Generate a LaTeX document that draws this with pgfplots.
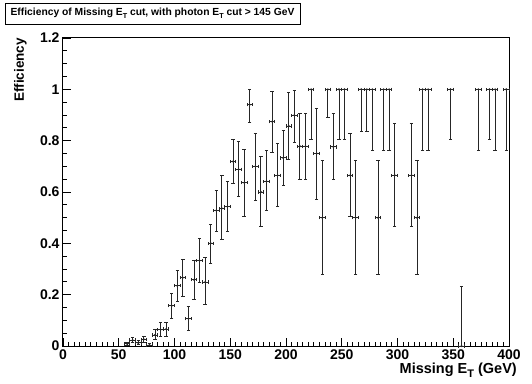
\documentclass[border=0pt]{standalone}
\usepackage{fontspec}
\setmainfont{Liberation Sans}
\usepackage{pgfplots}
\usepackage{pgfplotstable}
\pgfplotsset{compat=1.18}

% efficiency per 5 GeV bin: centre, value, half width, error up, error down
\pgfplotstableread{
x     y      ex   ep     em
57.5  0.008  2.5  0.006  0.005
62.5  0.023  2.5  0.012  0.010
67.5  0.012  2.5  0.009  0.007
72.5  0.026  2.5  0.013  0.011
77.5  0.004  2.5  0.006  0.003
82.5  0.043  2.5  0.020  0.017
87.5  0.064  2.5  0.027  0.025
92.5  0.066  2.5  0.026  0.027
97.5  0.157  2.5  0.048  0.049
102.5 0.235  2.5  0.058  0.063
107.5 0.266  2.5  0.071  0.074
112.5 0.106  2.5  0.047  0.046
117.5 0.258  2.5  0.077  0.076
122.5 0.333  2.5  0.086  0.087
127.5 0.249  2.5  0.095  0.089
132.5 0.400  2.5  0.074  0.080
137.5 0.528  2.5  0.078  0.081
142.5 0.536  2.5  0.127  0.121
147.5 0.543  2.5  0.100  0.096
152.5 0.719  2.5  0.085  0.086
157.5 0.688  2.5  0.107  0.104
162.5 0.636  2.5  0.129  0.130
167.5 0.940  2.5  0.058  0.070
172.5 0.700  2.5  0.130  0.132
177.5 0.600  2.5  0.137  0.136
182.5 0.642  2.5  0.118  0.115
187.5 0.874  2.5  0.119  0.120
192.5 0.665  2.5  0.124  0.123
197.5 0.733  2.5  0.107  0.107
202.5 0.857  2.5  0.130  0.131
207.5 0.899  2.5  0.098  0.105
212.5 0.778  2.5  0.127  0.128
217.5 0.778  2.5  0.127  0.128
222.5 1.000  2.5  0.000  0.195
227.5 0.750  2.5  0.177  0.179
232.5 0.500  2.5  0.224  0.223
237.5 1.000  2.5  0.000  0.110
242.5 0.776  2.5  0.129  0.126
247.5 1.000  2.5  0.000  0.195
252.5 1.000  2.5  0.000  0.195
257.5 0.665  2.5  0.162  0.159
262.5 0.500  2.5  0.224  0.223
267.5 1.000  2.5  0.000  0.163
272.5 1.000  2.5  0.000  0.163
277.5 1.000  2.5  0.000  0.237
282.5 0.500  2.5  0.224  0.223
287.5 1.000  2.5  0.000  0.237
292.5 1.000  2.5  0.000  0.237
297.5 0.665  2.5  0.201  0.198
312.5 0.665  2.5  0.201  0.198
317.5 0.500  2.5  0.224  0.223
322.5 1.000  2.5  0.000  0.237
327.5 1.000  2.5  0.000  0.237
347.5 1.000  2.5  0.000  0.195
357.5 0.000  2.5  0.233  0.000
372.5 1.000  2.5  0.000  0.237
382.5 1.000  2.5  0.000  0.195
387.5 1.000  2.5  0.000  0.237
397.5 1.000  2.5  0.000  0.237
}\effdata

\begin{document}
\begin{tikzpicture}
\path[use as bounding box] (-63pt,-37pt) rectangle (469pt,346pt);
\begin{axis}[
  width=446pt, height=308pt, scale only axis,
  xmin=0, xmax=400, ymin=0, ymax=1.2,
  xtick={0,50,...,400},
  ytick={0,0.2,0.4,0.6,0.8,1,1.2},
  minor x tick num=9, minor y tick num=3,
  tick align=inside, xtick pos=bottom, ytick pos=left,
  major tick length=8pt, minor tick length=4pt,
  axis line style={line width=1pt},
  every tick/.style={black, line width=0.9pt},
  ticklabel style={font=\bfseries\fontsize{14}{14}\selectfont},
  /pgf/number format/assume math mode=true,
  clip=false,
]
\addplot[black!85, line width=0.9pt, only marks, mark=*, mark size=0.5pt,
  error bars/.cd, x dir=both, x explicit, y dir=both, y explicit,
  error bar style={line width=0.9pt},
  error mark options={rotate=90, line width=0.9pt, mark size=1.7pt}]
  table[x=x, y=y, x error=ex, y error plus=ep, y error minus=em]{\effdata};
\end{axis}
\node[draw, line width=0.8pt, fill=white, minimum width=295pt, minimum height=21pt,
  inner sep=0pt, font=\bfseries\fontsize{10.3}{10.3}\selectfont] at (89.5pt,332.5pt)
  {Efficiency of Missing E\raisebox{-0.5ex}{\fontsize{7.2}{7.2}\selectfont T} cut, with photon E\raisebox{-0.5ex}{\fontsize{7.2}{7.2}\selectfont T} cut > 145 GeV};
\node[rotate=90, anchor=south east, inner sep=0pt, font=\bfseries\fontsize{13.5}{13.5}\selectfont]
  at (-36pt,308pt) {Efficiency};
\node[anchor=north east, inner sep=0pt, font=\bfseries\fontsize{14.5}{14.5}\selectfont]
  at (454pt,-17pt) {Missing E\raisebox{-0.5ex}{\fontsize{11}{11}\selectfont T} (GeV)};
\end{tikzpicture}
\end{document}
